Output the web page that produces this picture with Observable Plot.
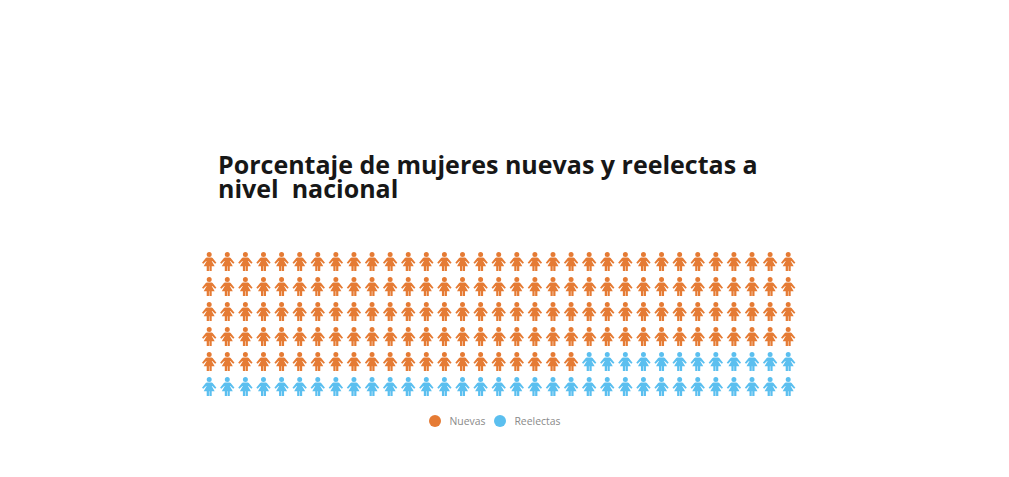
<!DOCTYPE html>
<html>
<head>
<meta charset="utf-8">
<script src="https://cdn.jsdelivr.net/npm/d3@7"></script>
<script src="https://cdn.jsdelivr.net/npm/@observablehq/plot@0.6"></script>
<style>
html,body{margin:0;padding:0;background:#fff;overflow:hidden;}
#page{position:relative;width:1009px;height:477px;font-family:"Open Sans",sans-serif;}
#title{position:absolute;left:218px;top:152px;width:560px;font-size:25px;font-weight:700;line-height:24px;color:#171717;margin:0;white-space:pre-wrap;}
#chart{position:absolute;left:0;top:240px;}
#legend{position:absolute;left:429px;top:414px;height:14px;display:flex;align-items:center;font-size:10.4px;color:#8a8a8a;}
#legend i{display:inline-block;width:12px;height:12px;border-radius:50%;}
#legend span{margin:0 8.5px 0 8.5px;}
</style>
</head>
<body>
<div id="page">
<h1 id="title"></h1>
<div id="chart"></div>
<div id="legend"></div>
</div>
<script>
const titleText = "Porcentaje de mujeres nuevas y reelectas a\nnivel  nacional";
const categories = ["Nuevas", "Reelectas"];
const colors = ["#e57b34", "#5bbfef"];
const counts = [153, 45];
const columns = 33;
const rows = 6;

const woman = {
  draw(c, size) {
    const k = Math.sqrt(size) / 18;
    const P = (pts) => {
      pts.forEach(([x, y], i) => i ? c.lineTo(x * k, y * k) : c.moveTo(x * k, y * k));
      c.closePath();
    };
    c.moveTo(2.5 * k, -6.9 * k);
    c.arc(0, -6.9 * k, 2.5 * k, 0, 2 * Math.PI);
    c.closePath();
    P([[-2.4,-3.9],[2.4,-3.9],[3.4,-3.4],[7.2,1.2],[5.9,2.3],[3,-0.6],[2.5,-0.6],[5.5,4.8],[2.5,4.8],[2.5,9.4],[0.25,9.4],[0.25,4.8],[-0.25,4.8],[-0.25,9.4],[-2.5,9.4],[-2.5,4.8],[-5.5,4.8],[-2.5,-0.6],[-3,-0.6],[-5.9,2.3],[-7.2,1.2],[-3.4,-3.4]]);
  }
};

const people = [];
let n = 0;
categories.forEach((cat, ci) => {
  for (let i = 0; i < counts[ci]; i++, n++) {
    people.push({col: n % columns, row: Math.floor(n / columns), cat});
  }
});

document.getElementById("title").textContent = titleText;

const plot = Plot.plot({
  width: 1009,
  height: 170,
  margin: 0,
  x: {domain: [0, columns - 1], range: [208.7, 787.7], axis: null},
  y: {domain: [0, rows - 1], range: [21, 146], axis: null},
  color: {domain: categories, range: colors},
  marks: [
    Plot.dot(people, {x: "col", y: "row", fill: "cat", symbol: woman, r: 18 / Math.sqrt(Math.PI), stroke: "none"})
  ]
});
document.getElementById("chart").append(plot);

const legend = document.getElementById("legend");
categories.forEach((cat, i) => {
  const dot = document.createElement("i");
  dot.style.background = colors[i];
  const label = document.createElement("span");
  label.textContent = cat;
  legend.append(dot, label);
});
</script>
</body>
</html>
